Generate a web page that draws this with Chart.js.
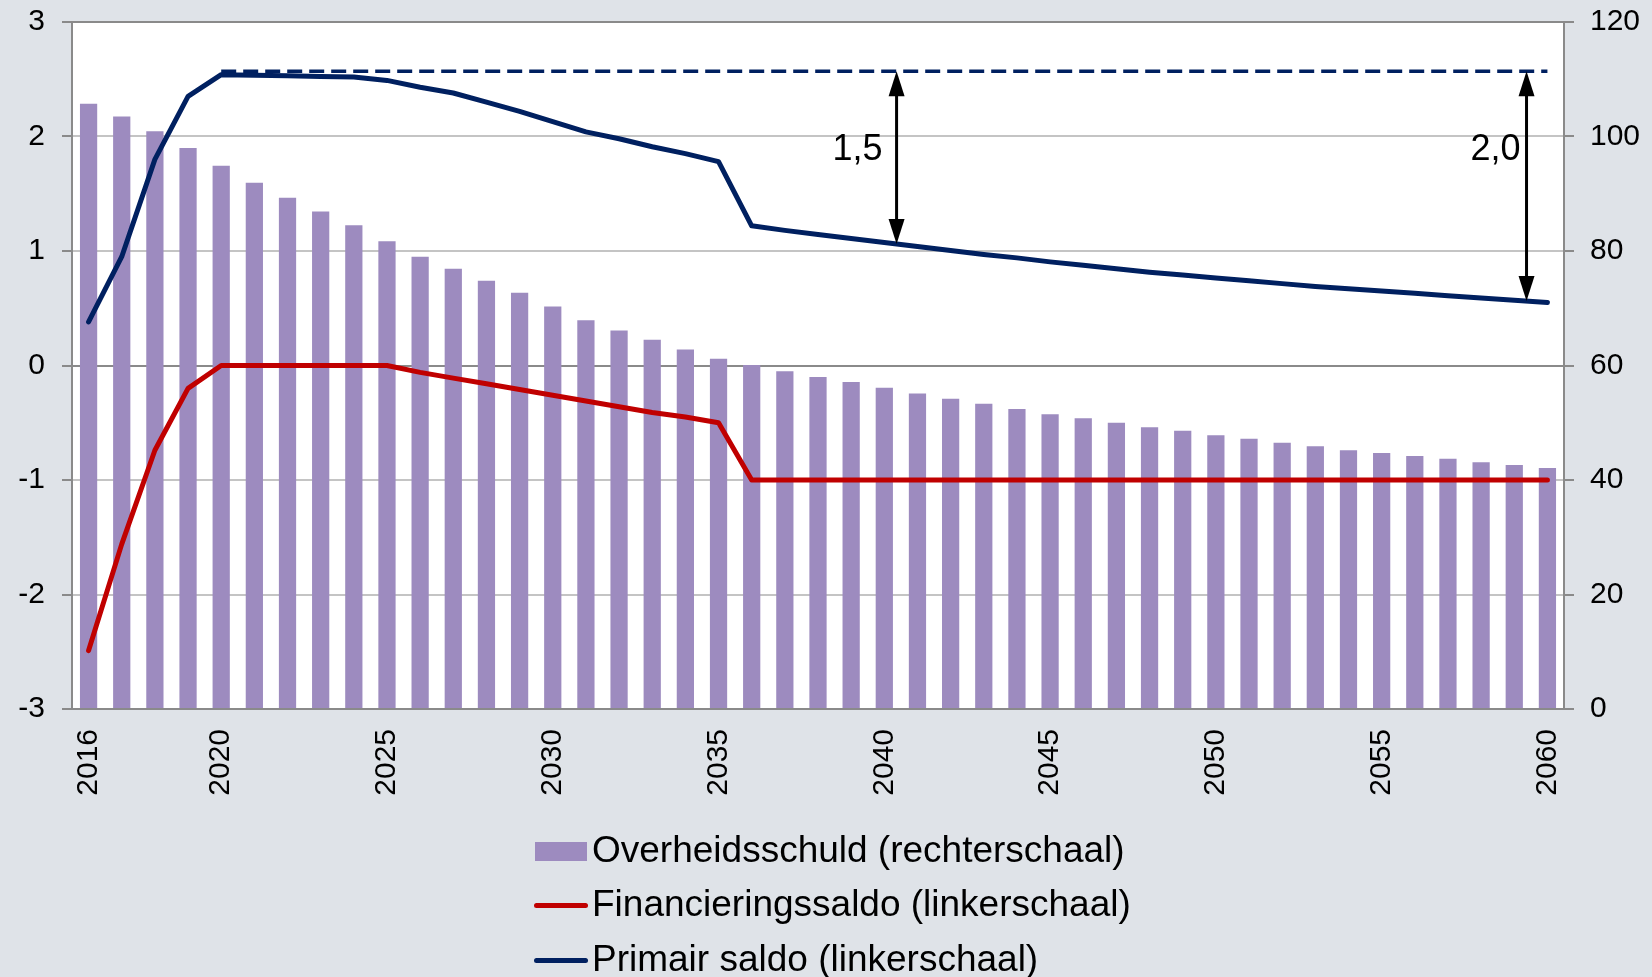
<!DOCTYPE html>
<html>
<head>
<meta charset="utf-8">
<script src="https://cdn.jsdelivr.net/npm/chart.js@4/dist/chart.umd.min.js"></script>
<style>
  body { margin: 0; background: #dfe3e8; overflow: hidden; }
  .wrap { position: relative; width: 1652px; height: 977px; }
  .legend { position: absolute; left: 533px; top: 0; font-family: 'Liberation Sans', Arial, sans-serif; font-size: 37px; color: #000; }
  .legend .row { position: absolute; left: 0; height: 37px; line-height: 37px; white-space: nowrap; }
  .legend .sym { position: absolute; left: 0; }
  .legend .txt { position: absolute; left: 59px; top: 0; }
</style>
</head>
<body>
<div class="wrap">
  <canvas id="myChart" width="1652" height="977"></canvas>
  <div class="legend" id="legend"></div>
</div>
<script>
const years = [
  '2016', '2017', '2018', '2019', '2020', '2021', '2022', '2023', '2024', '2025',
  '2026', '2027', '2028', '2029', '2030', '2031', '2032', '2033', '2034', '2035',
  '2036', '2037', '2038', '2039', '2040', '2041', '2042', '2043', '2044', '2045',
  '2046', '2047', '2048', '2049', '2050', '2051', '2052', '2053', '2054', '2055',
  '2056', '2057', '2058', '2059', '2060',
];
const xTickYears = ['2016', '2020', '2025', '2030', '2035', '2040', '2045', '2050', '2055', '2060'];

// overheidsschuld, % bbp (right axis)
const schuld = [
  105.7, 103.5, 100.9, 98.0, 94.9, 91.9, 89.3, 86.9, 84.5, 81.7,
  79.0, 76.9, 74.8, 72.7, 70.3, 67.9, 66.1, 64.5, 62.8, 61.2,
  60.1, 59.0, 58.0, 57.1, 56.1, 55.1, 54.2, 53.3, 52.4, 51.5,
  50.8, 50.0, 49.2, 48.6, 47.8, 47.2, 46.5, 45.9, 45.2, 44.7,
  44.2, 43.7, 43.1, 42.6, 42.1,
];
// financieringssaldo (left axis)
const financieringssaldo = [
  -2.49, -1.56, -0.74, -0.2, 0, 0, 0, 0, 0, 0,
  -0.06, -0.11, -0.16, -0.21, -0.26, -0.31, -0.36, -0.41, -0.45, -0.5,
  -1, -1, -1, -1, -1, -1, -1, -1, -1, -1,
  -1, -1, -1, -1, -1, -1, -1, -1, -1, -1,
  -1, -1, -1, -1, -1,
];
// primair saldo (left axis)
const primairSaldo = [
  0.38, 0.95, 1.80, 2.35, 2.54, 2.535, 2.53, 2.525, 2.52, 2.49,
  2.43, 2.38, 2.30, 2.22, 2.13, 2.04, 1.98, 1.91, 1.85, 1.78,
  1.22, 1.18, 1.145, 1.11, 1.075, 1.04, 1.005, 0.97, 0.94, 0.905,
  0.875, 0.845, 0.815, 0.79, 0.765, 0.74, 0.715, 0.69, 0.67, 0.65,
  0.63, 0.61, 0.59, 0.57, 0.55,
];
// reference level of the primair saldo (dashed)
const dashedLevel = 2.57;
const dashedFrom = '2020';
const arrowYears = ['2040', '2059'];
const arrowLabels = ['1,5', '2,0'];

const leftTicks = [-3, -2, -1, 0, 1, 2, 3];
const rightTicks = [0, 20, 40, 60, 80, 100, 120];

const purple = '#9d8bbf';
const red = '#c00000';
const navy = '#002060';
const axisGrey = '#8a8a8a';
const gridGrey = '#c4c4c4';
const fontFamily = "'Liberation Sans', Arial, sans-serif";

const dashed = years.map((y) => (Number(y) >= Number(dashedFrom) ? dashedLevel : null));

Chart.defaults.font.family = fontFamily;
Chart.defaults.color = '#000';

const plotBg = {
  id: 'plotBg',
  beforeDraw(chart) {
    const a = chart.chartArea;
    chart.ctx.save();
    chart.ctx.fillStyle = '#fff';
    chart.ctx.fillRect(a.left, a.top, a.right - a.left, a.bottom - a.top);
    chart.ctx.restore();
  },
};

function head(ctx, x, tipY, dir, len, half) {
  ctx.beginPath();
  ctx.moveTo(x, tipY);
  ctx.lineTo(x - half, tipY + dir * len);
  ctx.lineTo(x + half, tipY + dir * len);
  ctx.closePath();
  ctx.fill();
}

const gapArrows = {
  id: 'gapArrows',
  afterDatasetsDraw(chart, args, opts) {
    const ctx = chart.ctx;
    const xs = chart.scales.x;
    const ys = chart.scales.y;
    arrowYears.forEach((yr, k) => {
      const i = years.indexOf(yr);
      const f = opts.shift;
      const x = xs.getPixelForValue(i) + f * (xs.getPixelForValue(i + 1) - xs.getPixelForValue(i));
      const low = primairSaldo[i] + f * (primairSaldo[i + 1] - primairSaldo[i]);
      const y0 = ys.getPixelForValue(dashedLevel);
      const y1 = ys.getPixelForValue(low);
      ctx.save();
      ctx.strokeStyle = '#000';
      ctx.fillStyle = '#000';
      ctx.lineWidth = 3;
      ctx.beginPath();
      ctx.moveTo(x, y0 + 20);
      ctx.lineTo(x, y1 - 20);
      ctx.stroke();
      head(ctx, x, y0, 1, 25, 8);
      head(ctx, x, y1, -1, 25, 8);
      ctx.font = '36px ' + fontFamily;
      ctx.textAlign = 'right';
      ctx.textBaseline = 'middle';
      ctx.fillText(arrowLabels[k], x - opts.gaps[k], ys.getPixelForValue(opts.labelLevel));
      ctx.restore();
    });
  },
};

const config = {
  type: 'bar',
  data: {
    labels: years,
    datasets: [
      {
        type: 'bar',
        label: 'Overheidsschuld (rechterschaal)',
        data: schuld,
        yAxisID: 'y1',
        backgroundColor: purple,
        categoryPercentage: 1,
        barPercentage: 0.52,
        order: 5,
      },
      {
        type: 'line',
        label: 'Financieringssaldo (linkerschaal)',
        data: financieringssaldo,
        yAxisID: 'y',
        borderColor: red,
        borderWidth: 5,
        borderCapStyle: 'round',
        borderJoinStyle: 'round',
        pointRadius: 0,
        tension: 0,
        order: 2,
      },
      {
        type: 'line',
        label: 'Primair saldo (linkerschaal)',
        data: primairSaldo,
        yAxisID: 'y',
        borderColor: navy,
        borderWidth: 5,
        borderCapStyle: 'round',
        borderJoinStyle: 'round',
        pointRadius: 0,
        tension: 0,
        order: 1,
      },
      {
        type: 'line',
        label: 'niveau',
        data: dashed,
        yAxisID: 'y',
        borderColor: navy,
        borderWidth: 3.5,
        borderDash: [15, 7],
        pointRadius: 0,
        tension: 0,
        order: 3,
      },
    ],
  },
  options: {
    responsive: false,
    animation: false,
    layout: { padding: { top: 22, left: 0, right: 0, bottom: 0 } },
    plugins: {
      legend: { display: false },
      tooltip: { enabled: false },
      gapArrows: { shift: 0.37, gaps: [14, 6], labelLevel: 1.88 },
    },
    scales: {
      x: {
        grid: { display: false, drawTicks: false },
        border: { display: true, color: axisGrey, width: 2 },
        ticks: {
          autoSkip: false,
          minRotation: 90,
          maxRotation: 90,
          padding: 20,
          font: { size: 30 },
          callback: function (value) {
            const lab = this.getLabelForValue(value);
            return xTickYears.includes(lab) ? lab : '';
          },
        },
        afterFit: (scale) => { scale.height = 268; },
      },
      y: {
        position: 'left',
        min: leftTicks[0],
        max: leftTicks[leftTicks.length - 1],
        afterBuildTicks: (scale) => { scale.ticks = leftTicks.map((v) => ({ value: v })); },
        grid: {
          color: (c) => (c.tick && (c.tick.value === 0 || c.tick.value === 3) ? axisGrey : gridGrey),
          lineWidth: 2,
          tickLength: 10,
          tickColor: axisGrey,
        },
        border: { color: axisGrey, width: 2 },
        ticks: { padding: 17, font: { size: 30, lineHeight: 0.3 } },
        afterFit: (scale) => { scale.width = 72; },
      },
      y1: {
        position: 'right',
        min: rightTicks[0],
        max: rightTicks[rightTicks.length - 1],
        afterBuildTicks: (scale) => { scale.ticks = rightTicks.map((v) => ({ value: v })); },
        grid: { drawOnChartArea: false, tickLength: 10, tickColor: axisGrey, lineWidth: 2 },
        border: { color: axisGrey, width: 2 },
        ticks: { padding: 16, font: { size: 30, lineHeight: 0.3 } },
        afterFit: (scale) => { scale.width = 88; },
      },
    },
  },
  plugins: [plotBg, gapArrows],
};

const myChart = new Chart(document.getElementById('myChart'), config);

// legend below the chart, one entry per row
const rowTops = [831, 885, 940];
const $legend = document.getElementById('legend');
myChart.data.datasets.slice(0, 3).forEach((ds, k) => {
  const row = document.createElement('div');
  row.className = 'row';
  row.style.top = rowTops[k] + 'px';
  const sym = document.createElement('div');
  sym.className = 'sym';
  if (ds.type === 'bar') {
    sym.style.cssText = `left:2px;top:11px;width:52px;height:19px;background:${ds.backgroundColor}`;
  } else {
    sym.style.cssText = `left:1px;top:18px;width:54px;height:5px;border-radius:3px;background:${ds.borderColor}`;
  }
  const txt = document.createElement('div');
  txt.className = 'txt';
  txt.textContent = ds.label;
  row.appendChild(sym);
  row.appendChild(txt);
  $legend.appendChild(row);
});
</script>
</body>
</html>
